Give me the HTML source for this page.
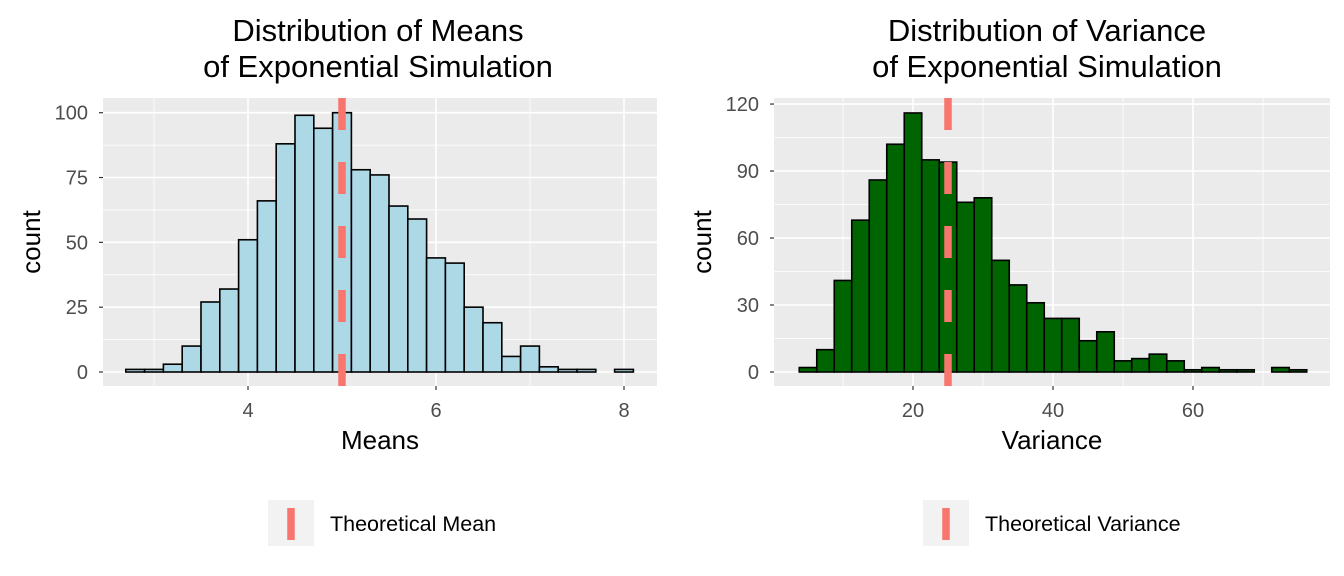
<!DOCTYPE html>
<html><head><meta charset="utf-8"><style>
body{margin:0;background:#fff;}
svg{display:block;font-family:"Liberation Sans",Arial,sans-serif;}
</style></head><body>
<svg id="c" width="1344" height="576" viewBox="0 0 1344 576"></svg>
<script>
const meansBinStart = 2.7;
const meansBinWidth = 0.2;
const meansCounts = [1,1,3,10,27,32,51,66,88,99,94,100,78,76,64,59,44,42,25,19,6,10,2,1,1,0,1];
const meansXTicks = [4,6,8];
const meansYTicks = [0,25,50,75,100];
const theoreticalMean = 5;

const varBinStart = 3.75;
const varBinWidth = 2.5;
const varCounts = [2,10,41,68,86,102,116,95,94,76,78,50,39,31,24,24,14,18,5,6,8,5,1,2,1,1,0,2,1];
const varXTicks = [20,40,60];
const varYTicks = [0,30,60,90,120];
const theoreticalVar = 25;

const svg = document.getElementById('c');
const NS = 'http://www.w3.org/2000/svg';
function mk(tag, attrs, parent){const e=document.createElementNS(NS,tag);for(const k in attrs)e.setAttribute(k,attrs[k]);(parent||svg).appendChild(e);return e;}

function panel(o){
  const g = mk('g',{});
  
  
  const X = v => o.x0px + (v - o.x0v) * o.xs;
  const Y = v => o.base - v * o.ys;
  const bg = mk('rect',{x:o.l,y:o.t,width:o.r-o.l,height:o.b-o.t,fill:'#ebebeb'},g);
  
  
  const majY = o.yTicks, stepY = majY[1]-majY[0];
  for (let i=0;i<majY.length;i++){
    const v = majY[i]+stepY/2;
    if (Y(v) > o.t) mk('line',{x1:o.l,x2:o.r,y1:Y(v),y2:Y(v),stroke:'#fff','stroke-width':0.8},g);
  }
  const stepX = o.xTicks[1]-o.xTicks[0];
  for (let v=o.xTicks[0]-stepX/2; X(v)<o.r; v+=stepX){
    if (X(v)>o.l) mk('line',{x1:X(v),x2:X(v),y1:o.t,y2:o.b,stroke:'#fff','stroke-width':0.8},g);
  }
  o.yTicks.forEach(v=>{
    mk('line',{x1:o.l,x2:o.r,y1:Y(v),y2:Y(v),stroke:'#fff','stroke-width':1.6},g);
    mk('line',{x1:o.l-4,x2:o.l,y1:Y(v),y2:Y(v),stroke:'#333','stroke-width':1.2},g);
    const t = mk('text',{x:o.l-15,y:Y(v)+7,'text-anchor':'end','font-size':20,fill:'#4d4d4d'},g);
    t.textContent = v;
    
    
  });
  o.xTicks.forEach(v=>{
    mk('line',{x1:X(v),x2:X(v),y1:o.t,y2:o.b,stroke:'#fff','stroke-width':1.6},g);
    mk('line',{x1:X(v),x2:X(v),y1:o.b,y2:o.b+4,stroke:'#333','stroke-width':1.2},g);
    const t = mk('text',{x:X(v),y:o.b+31,'text-anchor':'middle','font-size':20,fill:'#4d4d4d'},g);
    t.textContent = v;
    
    
  });
  o.counts.forEach((c,i)=>{
    const a = o.binStart + i*o.binWidth;
    const x1 = X(a), x2 = X(a+o.binWidth);
    const r = mk('rect',{x:x1,y:Y(c),width:x2-x1,height:Y(0)-Y(c),fill:o.fill,stroke:'#000','stroke-width':1.6},g);
    
    
  });
  const vl = mk('line',{x1:X(o.vline),x2:X(o.vline),y1:o.b,y2:o.t,stroke:'#F8766D','stroke-width':7.5,'stroke-dasharray':'32 32'},g);
  
  
  const cx = (o.l+o.r)/2;
  o.title.forEach((s,i)=>{
    const t = mk('text',{x:cx+o.tdx,y:41+i*36,'text-anchor':'middle','font-size':31,fill:'#000'},g);
    t.textContent = s;
    
    
  });
  const xt = mk('text',{x:cx,y:449,'text-anchor':'middle','font-size':26,fill:'#000'},g);
  xt.textContent = o.xlab;
  
  
  const yx = o.l-63, yy=(o.t+o.b)/2;
  const yt = mk('text',{x:yx,y:yy,'text-anchor':'middle','font-size':26,fill:'#000',transform:`rotate(-90 ${yx} ${yy})`},g);
  yt.textContent = 'count';
  
  
  const lg = mk('g',{},g);
  
  
  mk('rect',{x:o.legX,y:500,width:46,height:46,fill:'#f2f2f2'},lg);
  mk('line',{x1:o.legX+23,x2:o.legX+23,y1:508,y2:540,stroke:'#F8766D','stroke-width':7.5},lg);
  const lt = mk('text',{x:o.legX+62,y:531,'font-size':21.5,fill:'#000'},lg);
  lt.textContent = o.legText;
}

panel({name:'means-panel',l:103,r:657,t:98,b:386,x0v:4,x0px:248,xs:94,base:372,ys:2.593,
  xTicks:meansXTicks,yTicks:meansYTicks,counts:meansCounts,binStart:meansBinStart,binWidth:meansBinWidth,
  fill:'#ADD8E6',vline:theoreticalMean,title:['Distribution of Means','of Exponential Simulation'],tdx:-2,
  xlab:'Means',legX:268,legText:'Theoretical Mean'});
panel({name:'variance-panel',l:774,r:1330,t:98,b:386,x0v:20,x0px:913,xs:7.0,base:372,ys:2.233,
  xTicks:varXTicks,yTicks:varYTicks,counts:varCounts,binStart:varBinStart,binWidth:varBinWidth,
  fill:'#006400',vline:theoreticalVar,title:['Distribution of Variance','of Exponential Simulation'],tdx:-5,
  xlab:'Variance',legX:923,legText:'Theoretical Variance'});
</script>
</body></html>
